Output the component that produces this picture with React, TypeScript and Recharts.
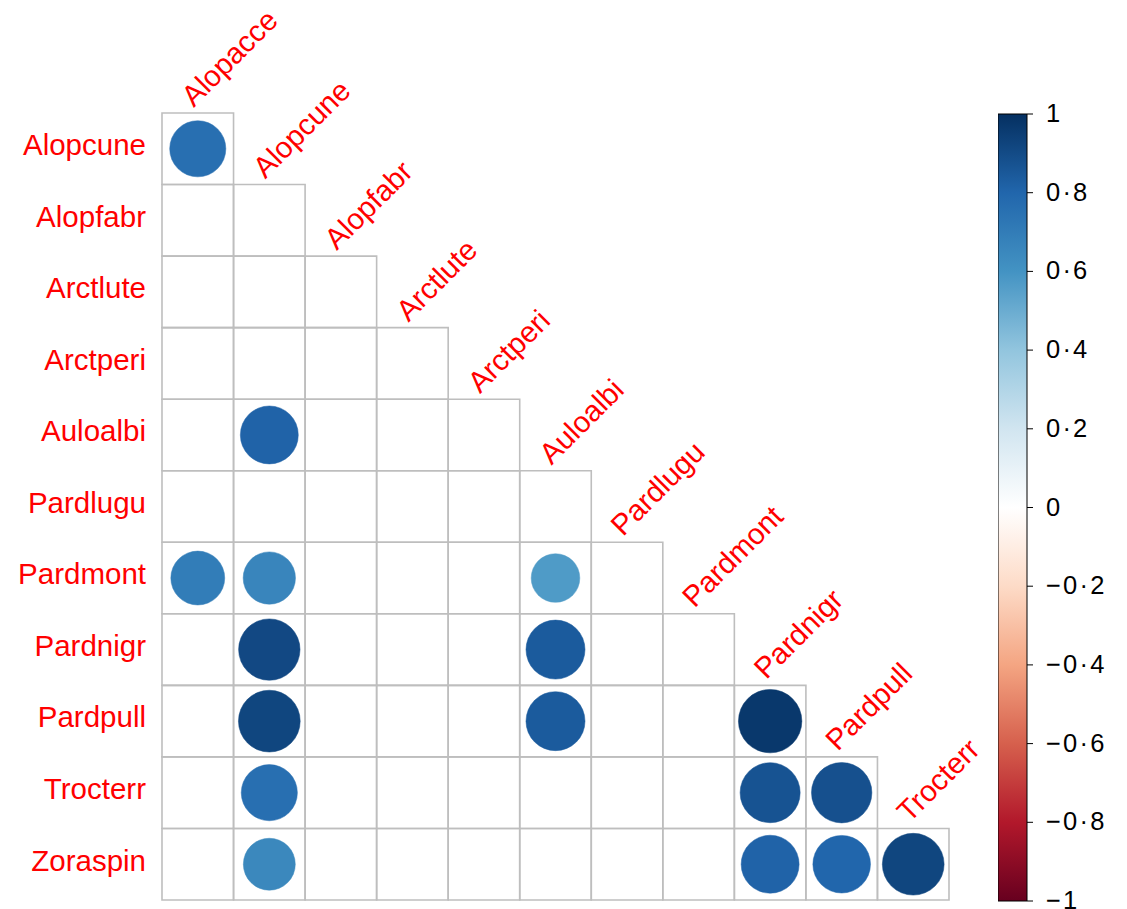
import React from 'react';
import { ScatterChart, Scatter, XAxis, YAxis, ZAxis, ReferenceArea } from 'recharts';

const rowNames = ['Alopcune', 'Alopfabr', 'Arctlute', 'Arctperi', 'Auloalbi', 'Pardlugu', 'Pardmont', 'Pardnigr', 'Pardpull', 'Trocterr', 'Zoraspin'];
const colNames = ['Alopacce', 'Alopcune', 'Alopfabr', 'Arctlute', 'Arctperi', 'Auloalbi', 'Pardlugu', 'Pardmont', 'Pardnigr', 'Pardpull', 'Trocterr'];

// shown (significant) correlations: row index, column index, value
const corrRows = [0, 4, 6, 6, 6, 7, 7, 8, 8, 8, 9, 9, 9, 10, 10, 10, 10];
const corrCols = [0, 1, 0, 1, 5, 1, 5, 1, 5, 8, 1, 8, 9, 1, 8, 9, 10];
const corrValues = [0.76, 0.81, 0.70, 0.66, 0.57, 0.91, 0.84, 0.92, 0.84, 0.97, 0.76, 0.87, 0.88, 0.65, 0.81, 0.80, 0.92];

const legendTicks = [1, 0.8, 0.6, 0.4, 0.2, 0, -0.2, -0.4, -0.6, -0.8, -1];
const palette = ['#67001F', '#B2182B', '#D6604D', '#F4A582', '#FDDBC7', '#FFFFFF', '#D1E5F0', '#92C5DE', '#4393C3', '#2166AC', '#053061'];

const FONT = '"Liberation Sans", Arial, Helvetica, sans-serif';
const RED = '#FF0000';
const GRID = '#BEBEBE';

function hexToRgb(h: string) {
  const n = parseInt(h.slice(1), 16);
  return [(n >> 16) & 255, (n >> 8) & 255, n & 255];
}
function colorFor(v: number) {
  const t = ((v + 1) / 2) * (palette.length - 1);
  const i = Math.max(0, Math.min(palette.length - 2, Math.floor(t)));
  const f = t - i;
  const a = hexToRgb(palette[i]);
  const b = hexToRgb(palette[i + 1]);
  const c = a.map((x, k) => Math.round(x + (b[k] - x) * f));
  return `rgb(${c[0]},${c[1]},${c[2]})`;
}

const pointData = corrValues.map((v, i) => ({ x: corrCols[i], y: corrRows[i], v, abs: Math.abs(v) }));
const labelData = colNames.map((name, j) => ({ x: j, y: j - 0.5, name }));
const legendData = legendTicks.map((v) => ({ x: 0.5, y: v }));
const cells: { r: number; c: number }[] = [];
rowNames.forEach((_, r) => {
  for (let c = 0; c <= r; c++) cells.push({ r, c });
});

const CircleShape = (props: any) => {
  const { cx, cy, width, payload } = props;
  if (cx == null || cy == null) return null;
  const col = colorFor(payload.v);
  return <circle cx={cx} cy={cy} r={width / 2} fill={col} stroke={col} strokeWidth={0.5} />;
};

const LabelShape = (props: any) => {
  const { cx, cy, payload } = props;
  if (cx == null || cy == null) return null;
  const x = cx - 4;
  const y = cy - 5;
  return (
    <text x={x} y={y} transform={`rotate(-45 ${x} ${y})`} fill={RED} fontSize={29.5} fontFamily={FONT} textAnchor="start">
      {payload.name}
    </text>
  );
};

const EmptyShape = () => <g />;

const RowTick = (props: any) => {
  const { x, y, payload } = props;
  return (
    <text x={x} y={y} dy={6.3} textAnchor="end" fill={RED} fontSize={29.5} fontFamily={FONT}>
      {rowNames[payload.value]}
    </text>
  );
};

const fmtLegend = (v: number) => String(v).replace('.', '·').replace('-', '−');

const LegendTick = (props: any) => {
  const { x, y, payload } = props;
  return (
    <text x={x} y={y} dy={8} textAnchor="start" fill="#000" fontSize={25.5} letterSpacing={2.2} fontFamily={FONT}>
      {fmtLegend(payload.value)}
    </text>
  );
};

export default function App() {
  return (
    <div style={{ position: 'absolute', left: 0, top: 0, width: 1127, height: 909, background: '#fff' }}>
      <ScatterChart width={1127} height={909} margin={{ top: 113, right: 178, bottom: 9, left: 0 }}>
        <XAxis type="number" dataKey="x" domain={[-0.5, 10.5]} hide height={0} />
        <YAxis
          type="number"
          dataKey="y"
          domain={[-0.5, 10.5]}
          reversed
          width={162}
          ticks={rowNames.map((_, i) => i)}
          interval={0}
          axisLine={false}
          tickLine={false}
          tickSize={6}
          tickMargin={10}
          tick={<RowTick />}
        />
        <ZAxis type="number" dataKey="abs" domain={[0, 1]} range={[0, 3257]} />
        <ZAxis type="number" zAxisId="lab" dataKey="x" range={[1, 1]} />
        {cells.map(({ r, c }) => (
          <ReferenceArea
            key={`cell-${r}-${c}`}
            x1={c - 0.5}
            x2={c + 0.5}
            y1={r - 0.5}
            y2={r + 0.5}
            fill="#fff"
            fillOpacity={0}
            stroke={GRID}
            strokeWidth={1.6}
            ifOverflow="visible"
          />
        ))}
        <Scatter data={pointData} shape={<CircleShape />} isAnimationActive={false} />
        <Scatter data={labelData} zAxisId="lab" shape={<LabelShape />} isAnimationActive={false} />
      </ScatterChart>
      <div style={{ position: 'absolute', left: 998, top: 0, width: 129, height: 909 }}>
        <ScatterChart width={129} height={909} margin={{ top: 114, right: 0, bottom: 8, left: 0 }}>
          <defs>
            <linearGradient id="cbGrad" x1="0" y1="0" x2="0" y2="1">
              {palette
                .slice()
                .reverse()
                .map((c, i) => (
                  <stop key={i} offset={`${(i / (palette.length - 1)) * 100}%`} stopColor={c} />
                ))}
            </linearGradient>
          </defs>
          <XAxis type="number" dataKey="x" domain={[0, 1]} hide height={0} />
          <YAxis
            type="number"
            dataKey="y"
            orientation="right"
            domain={[-1, 1]}
            ticks={legendTicks}
            interval={0}
            width={100}
            axisLine={false}
            tickLine={{ stroke: '#000', strokeWidth: 1 }}
            tickSize={6}
            tickMargin={13}
            tick={<LegendTick />}
          />
          <ReferenceArea x1={0} x2={1} y1={-1} y2={1} fill="url(#cbGrad)" fillOpacity={1} stroke="#000" strokeWidth={1} ifOverflow="visible" />
          <Scatter data={legendData} shape={<EmptyShape />} isAnimationActive={false} />
        </ScatterChart>
      </div>
    </div>
  );
}
